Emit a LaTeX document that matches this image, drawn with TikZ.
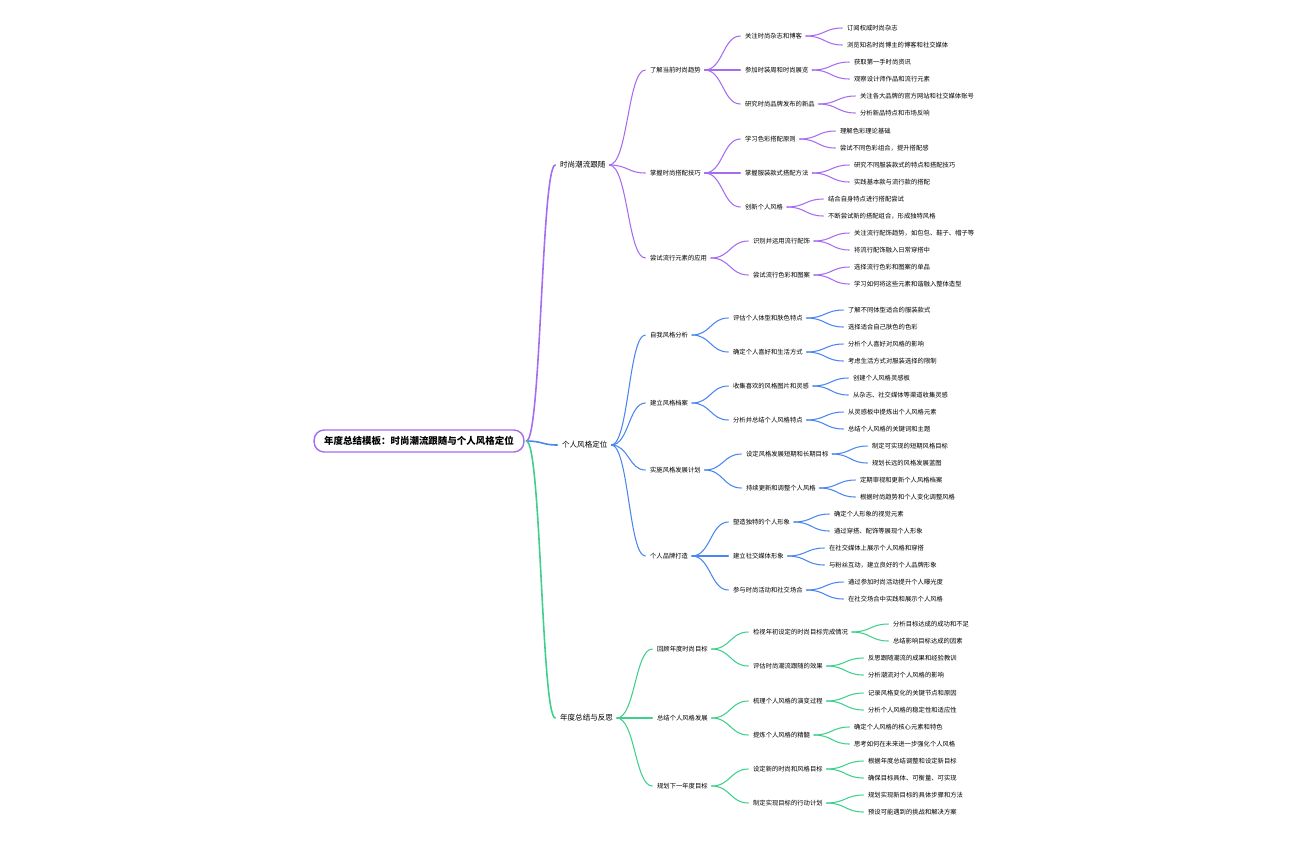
\documentclass[tikz,border=0pt]{standalone}
\usepackage{fontspec}
\newfontfamily\cjk{Noto Sans CJK SC}
\usepackage{tikz}
\usetikzlibrary{positioning}
\usetikzlibrary{calc}
\definecolor{trendpurple}{HTML}{A66CF0}
\definecolor{styleblue}{HTML}{4A86F0}
\definecolor{reviewgreen}{HTML}{3FCF8C}
\begin{document}
\begin{tikzpicture}[
 x=0.02cm, y=-0.02cm,
 root/.style={rectangle, rounded corners=0.2cm, draw=trendpurple, line width=0.8pt, fill=white, minimum height=0.44cm, inner xsep=0.2cm, font=\cjk\bfseries\fontsize{5.4}{6}\selectfont},
 main/.style={anchor=west, inner sep=1pt, font=\cjk\fontsize{4.3}{5}\selectfont},
 sub/.style={anchor=west, inner sep=1pt, font=\cjk\fontsize{3.6}{4}\selectfont},
 link/.style={line width=0.6pt, line cap=round, shorten >=1.5pt, shorten <=1pt}
]
\useasboundingbox (0,0) rectangle (1296,840);
\newcommand{\branch}[3]{%
 \draw[link, #1] let \p1=(#2.east), \p2=(#3.west) in
  (\p1) .. controls ({(\x1+\x2)/2},\y1) and ({(\x1+\x2)/2},\y2) .. (\p2);}

% Root
\node[root] (root) at (419,441) {年度总结模板：时尚潮流跟随与个人风格定位};

% Main branches
\node[main] (T) at (558,165) {时尚潮流跟随};
\node[main] (S) at (560,445) {个人风格定位};
\node[main] (R) at (558,718) {年度总结与反思};
\branch{trendpurple, line width=0.9pt}{root}{T}
\branch{styleblue, line width=0.9pt}{root}{S}
\branch{reviewgreen, line width=0.9pt}{root}{R}

% Fashion trends
\foreach \nm/\pa/\px/\py/\tx in {
 T1/T/648/70/了解当前时尚趋势, T2/T/648/173/掌握时尚搭配技巧, T3/T/648/258/尝试流行元素的应用,
 T11/T1/743/36/关注时尚杂志和博客, T12/T1/743/70/参加时装周和时尚展览, T13/T1/743/104/研究时尚品牌发布的新品,
 T111/T11/845/28/订阅权威时尚杂志, T112/T11/845/45/浏览知名时尚博主的博客和社交媒体,
 T121/T12/852/62/获取第一手时尚资讯, T122/T12/852/79/观察设计师作品和流行元素,
 T131/T13/858/96/关注各大品牌的官方网站和社交媒体账号, T132/T13/858/113/分析新品特点和市场反响,
 T21/T2/743/139/学习色彩搭配原则, T22/T2/743/173/掌握服装款式搭配方法, T23/T2/743/207/创新个人风格,
 T211/T21/838/131/理解色彩理论基础, T212/T21/838/148/尝试不同色彩组合，提升搭配感,
 T221/T22/852/165/研究不同服装款式的特点和搭配技巧, T222/T22/852/182/实践基本款与流行款的搭配,
 T231/T23/826/199/结合自身特点进行搭配尝试, T232/T23/826/216/不断尝试新的搭配组合，形成独特风格,
 T31/T3/751/241/识别并运用流行配饰, T32/T3/751/275/尝试流行色彩和图案,
 T311/T31/852/233/关注流行配饰趋势，如包包、鞋子、帽子等, T312/T31/852/250/将流行配饰融入日常穿搭中,
 T321/T32/852/267/选择流行色彩和图案的单品, T322/T32/852/284/学习如何将这些元素和谐融入整体造型}
{
 \node[sub] (\nm) at (\px,\py) {\tx};
 \branch{trendpurple}{\pa}{\nm}
}

% Personal style
\foreach \nm/\pa/\px/\py/\tx in {
 S1/S/648/335/自我风格分析, S2/S/648/403/建立风格档案, S3/S/648/470/实施风格发展计划, S4/S/648/556/个人品牌打造,
 S11/S1/731/318/评估个人体型和肤色特点, S12/S1/731/352/确定个人喜好和生活方式,
 S111/S11/846/310/了解不同体型适合的服装款式, S112/S11/846/327/选择适合自己肤色的色彩,
 S121/S12/846/344/分析个人喜好对风格的影响, S122/S12/846/361/考虑生活方式对服装选择的限制,
 S21/S2/731/386/收集喜欢的风格图片和灵感, S22/S2/731/420/分析并总结个人风格特点,
 S211/S21/851/378/创建个人风格灵感板, S212/S21/851/395/从杂志、社交媒体等渠道收集灵感,
 S221/S22/846/412/从灵感板中提炼出个人风格元素, S222/S22/846/429/总结个人风格的关键词和主题,
 S31/S3/744/454/设定风格发展短期和长期目标, S32/S3/744/488/持续更新和调整个人风格,
 S311/S31/870/446/制定可实现的短期风格目标, S312/S31/870/463/规划长远的风格发展蓝图,
 S321/S32/858/480/定期审视和更新个人风格档案, S322/S32/858/497/根据时尚趋势和个人变化调整风格,
 S41/S4/731/522/塑造独特的个人形象, S42/S4/731/556/建立社交媒体形象, S43/S4/731/590/参与时尚活动和社交场合,
 S411/S41/832/514/确定个人形象的视觉元素, S412/S41/832/531/通过穿搭、配饰等展现个人形象,
 S421/S42/827/548/在社交媒体上展示个人风格和穿搭, S422/S42/827/565/与粉丝互动，建立良好的个人品牌形象,
 S431/S43/846/582/通过参加时尚活动提升个人曝光度, S432/S43/846/599/在社交场合中实践和展示个人风格}
{
 \node[sub] (\nm) at (\px,\py) {\tx};
 \branch{styleblue}{\pa}{\nm}
}

% Review and reflection
\foreach \nm/\pa/\px/\py/\tx in {
 R1/R/655/649/回顾年度时尚目标, R2/R/655/718/总结个人风格发展, R3/R/655/786/规划下一年度目标,
 R11/R1/751/632/检视年初设定的时尚目标完成情况, R12/R1/751/666/评估时尚潮流跟随的效果,
 R111/R11/891/624/分析目标达成的成功和不足, R112/R11/891/641/总结影响目标达成的因素,
 R121/R12/866/658/反思跟随潮流的成果和经验教训, R122/R12/866/675/分析潮流对个人风格的影响,
 R21/R2/751/701/梳理个人风格的演变过程, R22/R2/751/735/提炼个人风格的精髓,
 R211/R21/866/693/记录风格变化的关键节点和原因, R212/R21/866/710/分析个人风格的稳定性和适应性,
 R221/R22/852/727/确定个人风格的核心元素和特色, R222/R22/852/744/思考如何在未来进一步强化个人风格,
 R31/R3/751/769/设定新的时尚和风格目标, R32/R3/751/803/制定实现目标的行动计划,
 R311/R31/866/761/根据年度总结调整和设定新目标, R312/R31/866/778/确保目标具体、可衡量、可实现,
 R321/R32/866/795/规划实现新目标的具体步骤和方法, R322/R32/866/812/预设可能遇到的挑战和解决方案}
{
 \node[sub] (\nm) at (\px,\py) {\tx};
 \branch{reviewgreen}{\pa}{\nm}
}
\end{tikzpicture}
\end{document}
